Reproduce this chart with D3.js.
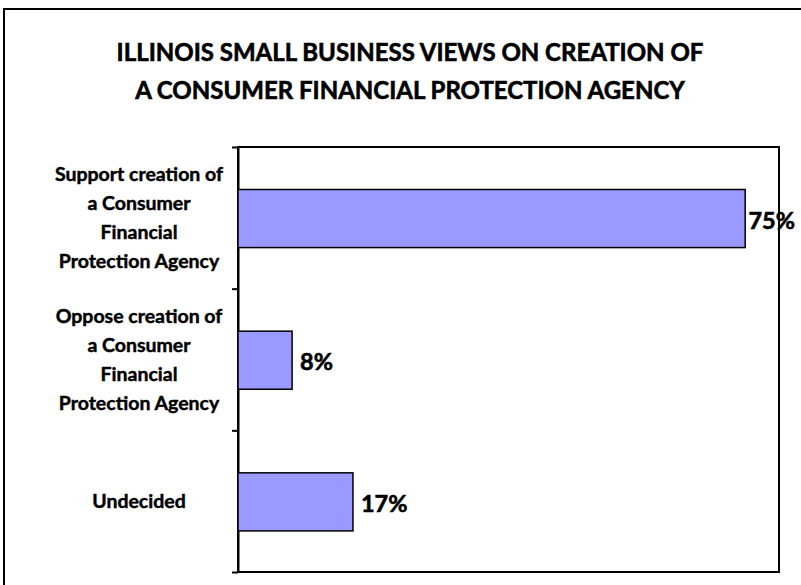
<!DOCTYPE html>
<html><head><meta charset="utf-8">
<script src="https://cdn.jsdelivr.net/npm/d3@7"></script>
<style>body{margin:0;background:#fff} svg{display:block}</style>
</head><body>
<svg id="c" width="801" height="585"></svg>
<script>
const titleLines = ["ILLINOIS SMALL BUSINESS VIEWS ON CREATION OF", "A CONSUMER FINANCIAL PROTECTION AGENCY"];
const categories = ["Support creation of\na Consumer\nFinancial\nProtection Agency", "Oppose creation of\na Consumer\nFinancial\nProtection Agency", "Undecided"];
const values = [0.75, 0.08, 0.17];
const xDomain = [0, 0.8];

const svg = d3.select("#c");
const font = "Lato, 'Open Sans', sans-serif";

// outer chart frame (cropped on right/bottom)
svg.append("rect").attr("x", 4).attr("y", 9).attr("width", 830).attr("height", 620)
  .attr("fill", "#fff").attr("stroke", "#000").attr("stroke-width", 2);

// title
svg.append("g").selectAll("text").data(titleLines).join("text")
  .attr("x", 410).attr("y", (d, i) => 61 + i * 38)
  .attr("text-anchor", "middle")
  .style("font-family", font).style("font-weight", "bold").style("font-size", "24px")
  .style("stroke", "#000").style("stroke-width", "0.6px")
  .text(d => d);

const m = {l: 238, r: 779, t: 147, b: 572};
const x = d3.scaleLinear().domain(xDomain).range([m.l, m.r]);
const y = d3.scaleBand().domain(categories).range([m.t, m.b]).padding(0);
const yb = d3.scaleLinear().domain([0, categories.length]).range([m.t, m.b]);

// plot area border
svg.append("rect").attr("x", m.l).attr("y", m.t).attr("width", m.r - m.l).attr("height", m.b - m.t)
  .attr("fill", "none").attr("stroke", "#000").attr("stroke-width", 2);

// left axis with boundary ticks
const ax = svg.append("g").attr("transform", `translate(${m.l},0)`)
  .call(d3.axisLeft(yb).tickValues(d3.range(categories.length + 1)).tickFormat("").tickSize(6).tickSizeOuter(0));
ax.selectAll("path,line").attr("stroke", "#000").attr("stroke-width", 2);

// bars
const bw = y.bandwidth();
svg.append("g").selectAll("rect").data(values).join("rect")
  .attr("x", x(0)).attr("y", (d, i) => y(categories[i]) + bw * 0.3)
  .attr("width", d => x(d) - x(0)).attr("height", bw * 0.41)
  .attr("fill", "#9999FF").attr("stroke", "#000").attr("stroke-width", 1.5);

// value labels
const vl = svg.append("g").selectAll("text").data(values).join("text")
  .attr("y", (d, i) => y(categories[i]) + bw * 0.505 + 10)
  .style("font-family", font).style("font-weight", "bold").style("font-size", "23.5px")
  .style("stroke", "#000").style("stroke-width", "0.6px")
  .text(d => Math.round(d * 100) + "%");
vl.attr("x", function (d) {
  const w = this.getComputedTextLength();
  let px = x(d) + 8;
  if (px + w > 795) px = 795 - w;
  return px;
});

// category labels
const lh = 29;
categories.forEach((c, i) => {
  const lines = c.split("\n");
  const cy = y(c) + bw / 2;
  const t = svg.append("text").attr("text-anchor", "middle")
    .style("font-family", font).style("font-weight", "bold").style("font-size", "19.5px")
    .style("stroke", "#000").style("stroke-width", "0.45px");
  lines.forEach((ln, j) => {
    t.append("tspan").attr("x", 139).attr("y", cy - (lines.length - 1) / 2 * lh + 7 + j * lh).text(ln);
  });
});
</script>
</body></html>
